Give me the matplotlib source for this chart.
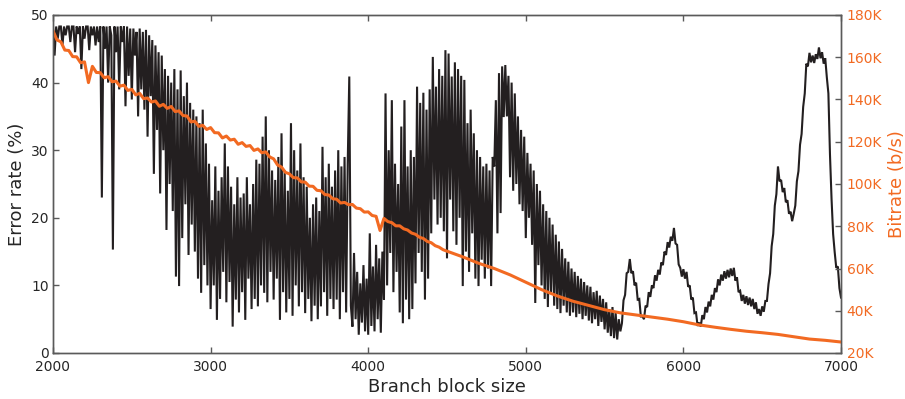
import numpy as np
import matplotlib
matplotlib.use("Agg")
import matplotlib.pyplot as plt

# ---------------- data ----------------
# error rate (%) sampled every 10 block-size units from 2000 to 5590
error_rate_fine = [
    48.3, 44.0, 48.3, 46.5, 48.3, 48.3, 45.5, 48.3, 47.0, 48.3,
    48.3, 46.0, 48.3, 48.3, 44.5, 48.3, 47.2, 48.3, 42.0, 48.3,
    46.5, 48.3, 48.3, 44.8, 48.3, 47.0, 48.3, 45.5, 48.3, 46.0,
    48.3, 23.0, 48.3, 45.0, 48.3, 40.0, 48.3, 47.0, 15.3, 48.3,
    44.5, 48.3, 39.0, 48.3, 46.0, 48.3, 36.5, 48.3, 41.0, 48.0,
    37.5, 48.0, 44.0, 47.5, 35.0, 48.0, 39.0, 47.5, 36.0, 47.8,
    32.0, 47.0, 38.0, 46.3, 26.5, 45.5, 33.0, 44.5, 23.6, 44.0,
    30.0, 42.0, 18.2, 41.0, 25.0, 40.0, 21.0, 42.0, 11.3, 39.0,
    9.9, 41.8, 17.0, 38.0, 22.0, 40.0, 14.5, 37.0, 19.0, 36.0,
    15.0, 35.0, 11.0, 34.0, 8.9, 36.0, 13.0, 31.0, 10.0, 28.0,
    6.5, 22.6, 10.0, 27.6, 4.9, 24.0, 8.0, 26.0, 12.0, 31.0,
    7.5, 27.6, 10.5, 24.6, 3.9, 22.0, 7.9, 26.0, 6.0, 23.0,
    9.0, 23.6, 4.9, 26.0, 11.0, 22.0, 6.5, 25.0, 8.0, 28.6,
    6.9, 28.0, 10.0, 32.0, 8.9, 35.0, 7.5, 30.0, 12.0, 27.0,
    7.9, 25.6, 11.0, 29.0, 4.9, 32.5, 9.0, 27.0, 6.0, 24.0,
    8.0, 34.0, 5.5, 30.0, 10.0, 27.0, 6.9, 31.0, 9.0, 26.0,
    5.9, 24.6, 8.0, 20.0, 4.7, 22.0, 7.0, 23.0, 5.0, 21.0,
    6.9, 30.5, 9.0, 26.0, 5.5, 28.0, 8.0, 24.6, 6.5, 27.0,
    7.9, 30.0, 5.0, 27.6, 9.0, 29.0, 6.0, 28.0, 40.9, 7.0,
    3.9, 14.8, 5.0, 12.0, 2.7, 10.3, 4.5, 13.0, 3.2, 11.0,
    2.7, 17.7, 4.0, 12.8, 3.2, 16.0, 5.0, 14.0, 3.0, 15.0,
    7.9, 38.4, 10.0, 30.0, 14.8, 37.4, 9.0, 28.0, 12.0, 25.0,
    6.0, 33.5, 4.4, 37.4, 7.9, 27.6, 5.0, 30.0, 6.5, 29.0,
    10.3, 39.4, 14.8, 37.0, 12.0, 38.5, 7.9, 36.0, 11.0, 39.0,
    17.7, 43.8, 22.7, 39.4, 19.0, 42.0, 20.0, 41.0, 18.0, 44.8,
    14.0, 44.3, 22.7, 40.9, 18.0, 43.0, 16.0, 42.0, 20.0, 41.0,
    9.9, 40.4, 15.0, 34.0, 12.0, 36.0, 17.7, 32.5, 11.0, 30.0,
    9.9, 29.0, 13.8, 27.6, 11.0, 28.0, 12.5, 27.0, 9.9, 29.0,
    27.6, 37.4, 17.7, 41.4, 20.7, 42.4, 34.9, 42.6, 35.0, 41.0,
    26.0, 40.0, 24.0, 38.4, 25.0, 35.0, 22.0, 33.0, 21.0, 32.0,
    17.0, 29.6, 20.0, 28.0, 16.0, 27.0, 7.4, 25.0, 13.0, 24.0,
    10.0, 22.0, 8.0, 21.0, 6.8, 20.0, 9.0, 19.0, 7.0, 17.5,
    6.5, 16.5, 5.9, 15.4, 7.0, 14.0, 6.0, 13.5, 5.5, 12.5,
    6.0, 12.0, 5.3, 11.4, 5.8, 11.0, 5.0, 10.5, 5.5, 10.0,
    4.8, 9.8, 4.4, 9.0, 5.0, 9.2, 4.0, 8.5, 4.6, 8.0,
    3.5, 7.5, 3.0, 6.5, 2.5, 6.8, 2.2, 6.0, 2.0, 5.0,
]
# error rate (%) sampled every 10 units from 5600 to 7000
error_rate_tail = [
    3.2, 4.4, 7.8, 8.6, 11.8, 12.0, 13.9, 11.8, 12.1, 10.0,
    10.4, 7.9, 8.0, 5.4, 5.4, 5.0, 7.0, 6.8, 9.0, 8.3,
    10.0, 9.6, 11.5, 10.7, 12.3, 11.6, 13.4, 13.0, 15.0, 14.5,
    16.4, 15.6, 17.2, 16.6, 18.5, 16.2, 16.0, 13.1, 12.6, 11.3,
    12.4, 11.0, 12.0, 9.8, 10.0, 7.9, 8.2, 5.9, 6.0, 4.0,
    4.5, 3.9, 5.6, 5.0, 6.8, 6.0, 7.6, 6.9, 8.6, 7.9,
    9.6, 9.0, 10.9, 10.0, 11.6, 10.7, 12.1, 11.0, 12.3, 11.2,
    12.5, 11.4, 12.6, 10.7, 11.2, 9.0, 9.2, 7.7, 8.6, 7.3,
    8.4, 7.1, 8.2, 6.9, 8.0, 6.5, 7.5, 5.8, 6.5, 5.5,
    6.9, 6.1, 7.7, 7.7, 10.2, 11.8, 15.8, 17.6, 21.8, 23.5,
    27.6, 25.4, 25.6, 23.8, 24.4, 22.3, 22.6, 20.6, 20.9, 19.5,
    20.6, 21.8, 25.4, 26.9, 30.8, 32.4, 36.4, 38.4, 42.8, 42.4,
    44.4, 43.0, 44.0, 42.9, 44.2, 43.5, 45.2, 43.6, 44.5, 42.8,
    43.6, 40.8, 38.4, 29.4, 22.8, 17.6, 14.9, 12.6, 12.8, 9.6,
    8.2,
]
# bitrate (K b/s) every 25 units from 2000 to 4500
bitrate_fine = [
    172.5, 168.2, 167.3, 163.4, 163.2, 160.3, 160.2, 157.4, 157.8, 148.0,
    155.7, 152.8, 152.7, 150.3, 150.8, 148.4, 148.7, 146.3, 146.8, 144.3,
    144.8, 142.2, 142.9, 140.4, 140.7, 138.8, 139.3, 136.8, 137.7, 135.8,
    136.7, 134.3, 134.6, 132.4, 132.2, 129.4, 129.7, 127.3, 127.8, 125.8,
    126.7, 124.3, 124.2, 121.8, 122.7, 120.8, 121.2, 118.8, 119.6, 117.8,
    118.2, 115.9, 116.6, 114.8, 115.2, 112.8, 111.9, 109.0, 108.0, 105.5,
    104.8, 103.0, 102.9, 101.0, 100.9, 99.0, 98.9, 97.0, 96.8, 95.0,
    94.8, 93.0, 92.8, 91.0, 91.3, 90.2, 90.3, 88.6, 88.3, 86.7,
    86.8, 85.1, 84.7, 78.0, 83.7, 82.2, 81.7, 80.2, 80.2, 78.8,
    78.2, 76.8, 76.2, 74.8, 74.2, 72.8, 72.2, 70.8, 70.1, 68.9,
    68.2,
]
# bitrate (K b/s) every 100 units from 4600 to 7000
bitrate_coarse = [
    65.5, 62.5, 60.0, 57.0, 53.5, 50.0, 47.0, 44.5, 42.5, 40.5,
    39.0, 38.0, 37.0, 36.0, 34.8, 33.3, 32.2, 31.2, 30.3, 29.6,
    28.8, 27.7, 26.6, 26.0, 25.2,
]

x_ticks = [2000, 3000, 4000, 5000, 6000, 7000]
left_ticks = [0, 10, 20, 30, 40, 50]
right_ticks = [20, 40, 60, 80, 100, 120, 140, 160, 180]

block_err = np.arange(2000, 7001, 10)
err = np.concatenate([error_rate_fine, error_rate_tail])
block_bit = np.concatenate([np.arange(2000, 4501, 25), np.arange(4600, 7001, 100)])
bit = np.concatenate([bitrate_fine, bitrate_coarse])

# ---------------- plot ----------------
BLACK = "#231f20"
ORANGE = "#f26a22"
SPINE = "#5a5a5a"
TXT = "#262626"

fig = plt.figure(figsize=(9.05, 3.99), dpi=100)
ax = fig.add_axes([53 / 905, 46 / 399, 788 / 905, 338 / 399])
ax.plot(block_err, err, color=BLACK, lw=1.5, solid_joinstyle="miter")
ax.set_xlim(2000, 7000)
ax.set_ylim(0, 50)
ax.set_xticks(x_ticks)
ax.set_yticks(left_ticks)
ax.tick_params(direction="in", length=4, width=1, colors=SPINE, labelcolor=TXT,
               labelsize=10, top=True)
ax.tick_params(axis="x", pad=5)
ax.tick_params(axis="y", pad=3)
ax.set_xlabel("Branch block size", fontsize=13, color=TXT, labelpad=3)
ax.set_ylabel("Error rate (%)", fontsize=13, color=TXT, labelpad=4)

ax2 = ax.twinx()
ax2.plot(block_bit, bit, color=ORANGE, lw=2.2)
ax2.set_ylim(20, 180)
ax2.set_yticks(right_ticks)
ax2.set_yticklabels([f"{v}K" for v in right_ticks])
ax2.tick_params(direction="in", length=4, width=1, colors=SPINE, labelcolor=ORANGE,
                labelsize=10, pad=4)
ax2.set_ylabel("Bitrate (b/s)", fontsize=13, color=ORANGE, labelpad=4)

for a in (ax, ax2):
    for s in a.spines.values():
        s.set_color(SPINE)
        s.set_linewidth(1.0)

fig.savefig("out.png", dpi=100)
